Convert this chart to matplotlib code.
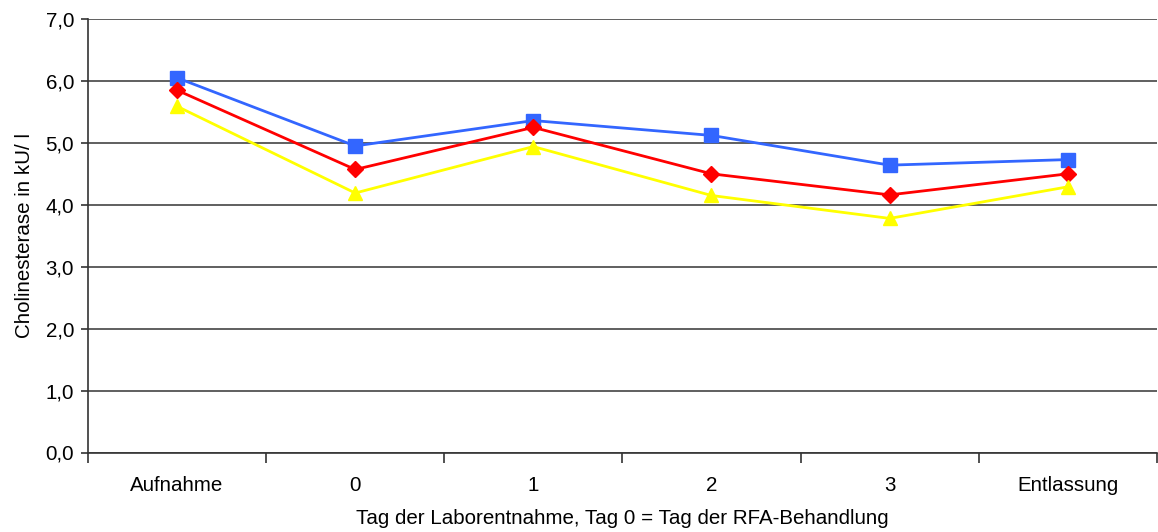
import numpy as np
import matplotlib.pyplot as plt
from matplotlib.ticker import FixedLocator, FuncFormatter

plt.rcParams['font.family'] = ['Liberation Sans', 'DejaVu Sans']

# Daten
tage = ["Aufnahme", "0", "1", "2", "3", "Entlassung"]
blau = [6.05, 4.95, 5.36, 5.12, 4.64, 4.73]
rot = [5.85, 4.57, 5.25, 4.50, 4.16, 4.50]
gelb = [5.59, 4.19, 4.94, 4.15, 3.78, 4.29]

fs = 14.8

fig = plt.figure(figsize=(11.58, 5.32), dpi=100)
ax = fig.add_axes([88/1158, 1 - 452.5/532, 1 - 88/1158 - 0.001, (452.5 - 19)/532])

x = np.arange(len(tage))
ax.plot(x, blau, color='#3366FF', lw=2, marker='s', ms=10, zorder=5)
ax.plot(x, rot, color='#FF0000', lw=2, marker='D', ms=8, zorder=5)
ax.plot(x, gelb, color='#FFFF00', lw=2, marker='^', ms=10, zorder=5)

ax.set_xlim(-0.5, len(tage) - 0.5)
ax.set_ylim(0, 7)
ax.set_yticks(np.arange(0, 7.1, 1.0))
ax.yaxis.set_major_formatter(FuncFormatter(lambda v, p: f"{v:.1f}".replace('.', ',')))
ax.grid(axis='y', color='#444444', lw=1.2)
ax.set_axisbelow(True)

ax.set_xticks(x)
ax.set_xticklabels(tage)
ax.tick_params(axis='x', length=0, pad=17, labelsize=fs)
ax.xaxis.set_minor_locator(FixedLocator(np.arange(-0.5, len(tage), 1.0)))
ax.tick_params(axis='x', which='minor', length=7, width=1.2, color='#333333')
ax.tick_params(axis='y', length=5, width=1.2, color='#333333', labelsize=fs, pad=5)

for s in ['top', 'right']:
    ax.spines[s].set_visible(False)
ax.spines['left'].set_color('#333333')
ax.spines['left'].set_linewidth(1.2)
ax.spines['bottom'].set_color('#333333')
ax.spines['bottom'].set_linewidth(1.2)

ax.set_ylabel("Cholinesterase in kU/ l", fontsize=fs, labelpad=8)
ax.set_xlabel("Tag der Laborentnahme, Tag 0 = Tag der RFA-Behandlung", fontsize=fs, labelpad=10)

fig.savefig("out.png", dpi=100)
